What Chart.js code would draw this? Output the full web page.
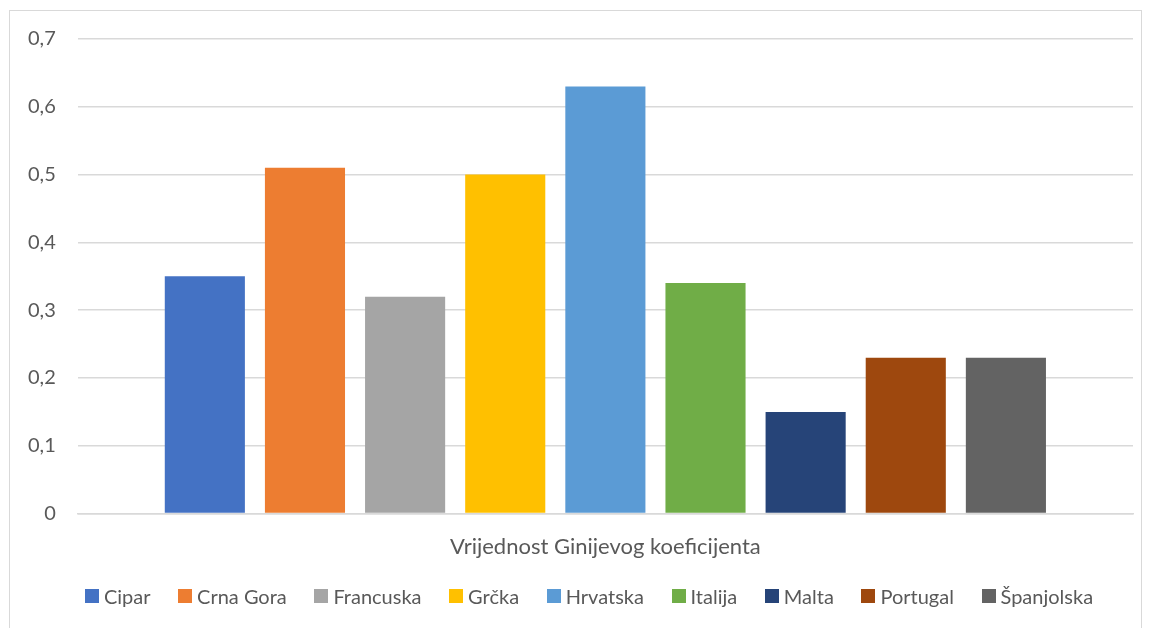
<!DOCTYPE html>
<html>
<head>
<meta charset="utf-8">
<script src="https://cdn.jsdelivr.net/npm/chart.js@4"></script>
<style>
  html, body { margin: 0; padding: 0; background: #fff; }
  body { width: 1151px; height: 628px; position: relative; overflow: hidden; }
  #frame { position: absolute; left: 9px; top: 10px; width: 1131px; height: 640px; border: 1px solid #d9d9d9; }
  #wrap { position: absolute; left: 0; top: 0; width: 1151px; height: 628px; }
  #legend { position: absolute; left: 27px; top: 584px; width: 1124px; display: flex; justify-content: center;
            font: 20px Lato, "Open Sans", sans-serif; line-height: 24px; color: #595959; }
  #legend .item { display: flex; align-items: center; margin: 0 13.8px; }
  #legend .box { width: 14px; height: 14px; margin-right: 5px; }
</style>
</head>
<body>
<div id="frame"></div>
<div id="wrap"><canvas id="giniChart"></canvas></div>
<div id="legend"></div>
<script>
// Gini coefficient by country
const categories = ['Vrijednost Ginijevog koeficijenta'];
const countries = ['Cipar', 'Crna Gora', 'Francuska', 'Grčka', 'Hrvatska', 'Italija', 'Malta', 'Portugal', 'Španjolska'];
const giniValues = [0.35, 0.51, 0.32, 0.50, 0.63, 0.34, 0.15, 0.23, 0.23];
const colors = ['#4472c4', '#ed7d31', '#a5a5a5', '#ffc000', '#5b9bd5', '#70ad47', '#264478', '#9e480e', '#636363'];
const yTicks = [0, 0.1, 0.2, 0.3, 0.4, 0.5, 0.6, 0.7];

const FONT = 'Lato, "Open Sans", sans-serif';
const TEXT = '#595959';

const ctx = document.getElementById('giniChart').getContext('2d');
const giniChart = new Chart(ctx, {
    type: 'bar',
    data: {
        labels: categories,
        datasets: countries.map((name, i) => ({
            label: name,
            data: [giniValues[i]],
            backgroundColor: colors[i],
            borderWidth: 0,
            barPercentage: 0.8,
            categoryPercentage: 0.854,
        })),
    },
    options: {
        responsive: true,
        maintainAspectRatio: false,
        animation: false,
        layout: { padding: { top: 39, right: 18, left: 6, bottom: 56 } },
        plugins: {
            tooltip: { enabled: false },
            legend: { display: false },
        },
        scales: {
            x: {
                grid: { display: false },
                border: { color: '#d9d9d9', width: 1.5 },
                ticks: {
                    color: TEXT,
                    font: { family: FONT, size: 22 },
                    padding: 12,
                },
            },
            y: {
                min: 0,
                max: 0.7,
                afterBuildTicks: axis => { axis.ticks = yTicks.map(v => ({ value: v })); },
                grid: { color: '#d9d9d9', lineWidth: 1.5, drawTicks: false },
                border: { display: false },
                ticks: {
                    color: TEXT,
                    font: { family: FONT, size: 20 },
                    padding: 22,
                    callback: v => v === 0 ? '0' : v.toFixed(1).replace('.', ','),
                },
            },
        },
    },
});

// HTML legend built from the chart's datasets
const legendEl = document.getElementById('legend');
giniChart.data.datasets.forEach(ds => {
    const item = document.createElement('div');
    item.className = 'item';
    const box = document.createElement('span');
    box.className = 'box';
    box.style.background = ds.backgroundColor;
    item.appendChild(box);
    item.appendChild(document.createTextNode(ds.label));
    legendEl.appendChild(item);
});
</script>
</body>
</html>
